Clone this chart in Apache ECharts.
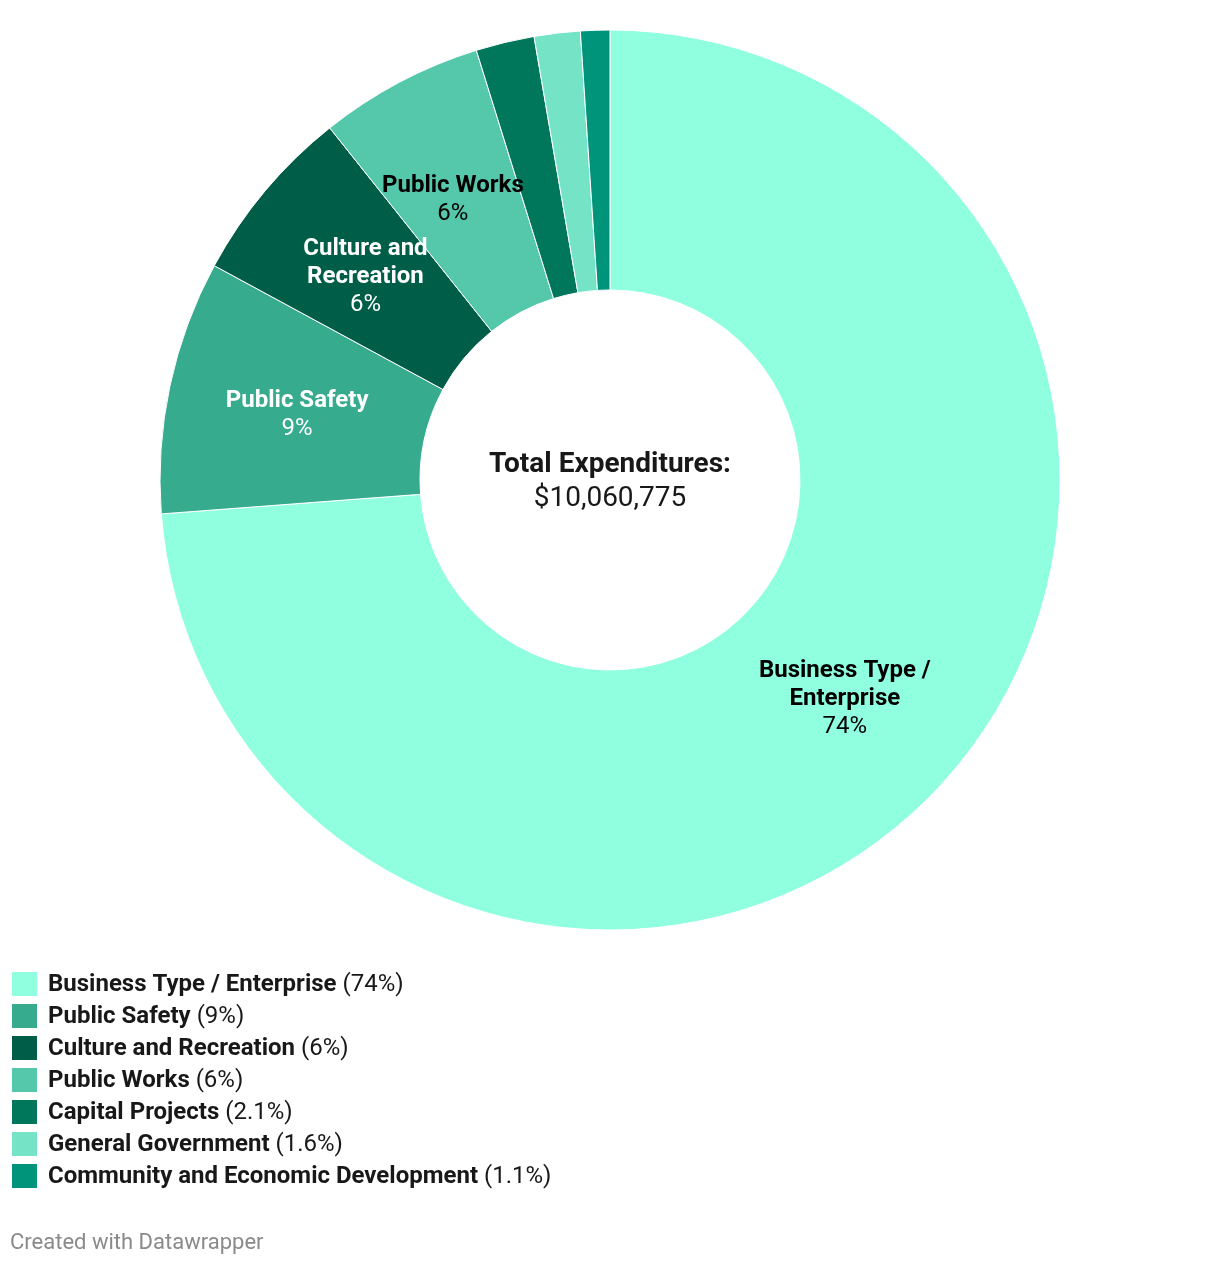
<!DOCTYPE html>
<html>
<head>
<meta charset="utf-8">
<script src="https://cdn.jsdelivr.net/npm/echarts@6/dist/echarts.min.js"></script>
<style>
html,body{margin:0;padding:0;background:#fff;}
#c{width:1220px;height:1266px;}
</style>
</head>
<body>
<div id="c"></div>
<script>
const categories = ["Business Type / Enterprise","Public Safety","Culture and Recreation","Public Works","Capital Projects","General Government","Community and Economic Development"];
const values = [73.8, 9.1, 6.4, 5.9, 2.1, 1.65, 1.05];
const percentLabels = ["74%","9%","6%","6%","2.1%","1.6%","1.1%"];
const sliceLabelNames = ["Business Type /\nEnterprise","Public Safety","Culture and\nRecreation","Public Works",null,null,null];
const colors = ["#8fffe0","#36ab8e","#005e48","#55c8ab","#00775b","#74e3c6","#00957a"];
const labelColors = ["#000000","#ffffff","#ffffff","#000000",null,null,null];
const labelNudges = [[-2,-1],[3,2],[3,4],[-6,5],null,null,null];
const totalLabel = "Total Expenditures:";
const totalValue = "$10,060,775";

const FONT = "Roboto";
const chart = echarts.init(document.getElementById('c'), null, {renderer:'canvas'});

const data = categories.map((name, i) => {
  const item = {name: name, value: values[i], itemStyle: {color: colors[i]}};
  if (sliceLabelNames[i]) {
    const lc = labelColors[i];
    const lines = sliceLabelNames[i].split("\n").map(l => "{b|" + l + "}").join("\n");
    item.label = {
      show: true,
      offset: labelNudges[i],
      formatter: lines + "\n{p|" + percentLabels[i] + "}",
      rich: {
        b: {fontFamily: FONT, fontWeight: 'bold', fontSize: 24, color: lc, lineHeight: 28, align:'center'},
        p: {fontFamily: FONT, fontWeight: 'normal', fontSize: 24, color: lc, lineHeight: 28, align:'center'}
      }
    };
  } else {
    item.label = {show: false};
  }
  return item;
});

const pctByName = {};
categories.forEach((c, i) => pctByName[c] = percentLabels[i]);

chart.setOption({
  animation: false,
  backgroundColor: '#ffffff',
  legend: {
    show: true,
    orient: 'vertical',
    left: 10,
    top: 970,
    itemWidth: 27,
    itemHeight: 26,
    itemGap: 4,
    icon: 'rect',
    selectedMode: false,
    padding: 0,
    data: categories,
    formatter: function(name){ return "{n|" + name + "} {p|(" + pctByName[name] + ")}"; },
    textStyle: {
      fontFamily: FONT,
      fontSize: 24,
      lineHeight: 26,
      color: '#181818',
      padding: [2,0,0,5],
      rich: {
        n: {fontFamily: FONT, fontWeight: 'bold', fontSize: 24, lineHeight: 26, color: '#181818'},
        p: {fontFamily: FONT, fontWeight: 'normal', fontSize: 24, lineHeight: 26, color: '#181818'}
      }
    }
  },
  graphic: [
    {type:'text', left: 'center', top: 451, style: {text: totalLabel, fontFamily: FONT, fontWeight: 'bold', fontSize: 28, fill: '#181818'}},
    {type:'text', left: 'center', top: 485, style: {text: totalValue, fontFamily: FONT, fontWeight: 'normal', fontSize: 28, fill: '#181818'}},
    {type:'text', left: 10, top: 1232, style: {text: "Created with Datawrapper", fontFamily: FONT, fontSize: 22, fill: '#8a8a8a'}}
  ],
  series: [{
    type: 'pie',
    center: [610, 480],
    radius: [190, 450],
    startAngle: 90,
    clockwise: true,
    avoidLabelOverlap: false,
    silent: true,
    itemStyle: {borderColor: '#ffffff', borderWidth: 1},
    label: {position: 'inside'},
    labelLine: {show: false},
    emphasis: {disabled: true},
    data: data
  }]
});
</script>
</body>
</html>
